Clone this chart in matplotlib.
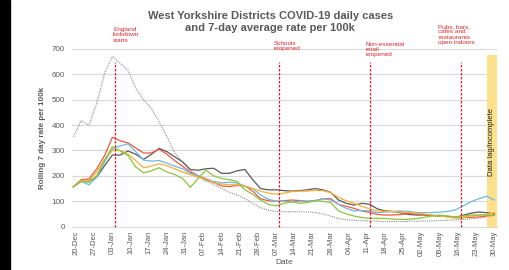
import numpy as np
import pandas as pd
import matplotlib
matplotlib.use("Agg")
import matplotlib.pyplot as plt
import matplotlib.dates as mdates
from matplotlib.patches import Rectangle

plt.rcParams['font.family'] = ['Liberation Sans', 'DejaVu Sans']

# sample dates (every 3 days)
dates = pd.date_range("2020-12-19", periods=55, freq="3D")

# West Yorkshire daily cases (dotted)
wy_daily = [354, 417, 400, 486, 605, 670, 643, 615, 545, 500, 465, 412, 355, 290,
            255, 222, 200, 182, 165, 150, 135, 125, 110, 92, 75, 65, 60, 59, 59,
            59, 58, 56, 50, 42, 32, 28, 25, 24, 23, 22, 20, 20, 20, 21, 22, 22,
            23, 24, 25, 27, 29, 31, 34, 37, np.nan]

# district 7-day rates per 100k
dark = [157, 182, 180, 195, 240, 282, 282, 298, 285, 265, 285, 308, 295, 275,
        255, 225, 222, 228, 230, 210, 210, 220, 225, 185, 150, 145, 145, 142,
        140, 142, 145, 150, 145, 135, 105, 92, 85, 92, 88, 70, 62, 60, 55, 48,
        46, 46, 44, 42, 40, 37, 45, 53, 58, 55, 50]
red = [157, 185, 188, 228, 280, 352, 338, 330, 310, 290, 290, 305, 285, 260,
       238, 215, 200, 188, 175, 160, 158, 162, 160, 140, 110, 102, 100, 102,
       105, 103, 100, 103, 110, 110, 88, 80, 72, 62, 56, 48, 46, 46, 48, 52,
       50, 46, 45, 42, 40, 36, 36, 37, 38, 42, 45]
blue = [157, 178, 165, 195, 255, 305, 318, 326, 295, 262, 258, 260, 250, 238,
        228, 210, 200, 180, 178, 172, 175, 172, 160, 150, 125, 108, 100, 100,
        98, 100, 100, 102, 110, 105, 88, 72, 62, 64, 62, 55, 58, 60, 62, 60,
        56, 55, 56, 57, 60, 66, 82, 98, 110, 120, 105]
orange = [157, 182, 182, 215, 265, 300, 300, 285, 260, 232, 238, 248, 240, 228,
          215, 205, 195, 185, 172, 168, 165, 165, 160, 150, 140, 132, 128, 132,
          138, 140, 140, 143, 142, 134, 115, 102, 92, 80, 70, 62, 60, 59, 58,
          56, 53, 50, 45, 42, 38, 34, 36, 42, 45, 48, 55]
green = [157, 178, 175, 200, 262, 315, 298, 280, 235, 212, 220, 232, 215, 205,
         190, 155, 190, 222, 200, 190, 185, 178, 145, 128, 105, 88, 82, 92, 98,
         92, 95, 102, 100, 95, 62, 50, 42, 36, 33, 33, 32, 30, 29, 29, 32, 37,
         42, 46, 42, 39, 42, 46, 46, 46, 44]

events = ["2021-01-04", "2021-03-08", "2021-04-12", "2021-05-17"]
event_text = ["England\nlockdown\nstarts", "Schools\nreopened",
              "Non-essential\nretail\nreopened",
              "Pubs, bars,\ncafes and\nrestaurants\nopen indoors"]
text_x = ["2021-01-03 06:00", "2021-03-05 22:00", "2021-04-10 08:00", "2021-05-08 10:00"]
text_y = [786, 732, 728, 798]

lag_start, lag_end, lag_top = "2021-05-27", "2021-05-31", 675

fig = plt.figure(figsize=(5.09, 2.70), dpi=100)
ax = fig.add_axes([72 / 509, 1 - 226.7 / 270, 425 / 509, (226.7 - 48.8) / 270])

grey = '#595959'
ax.fill_between(pd.to_datetime([lag_start, lag_end]), 0, lag_top, color='#fde08c', lw=0, zorder=1)
ax.text(pd.Timestamp(lag_start) + (pd.Timestamp(lag_end) - pd.Timestamp(lag_start)) / 2, 335,
        "Data lag/incomplete", rotation=90, ha='center', va='center', fontsize=5.5, color='#222222')

ax.plot(dates, wy_daily, color='#8c8c8c', ls=(0, (1, 1)), lw=0.8, zorder=3)
ax.plot(dates, dark, color='#595959', lw=0.9, zorder=3)
ax.plot(dates, red, color='#ec5a3e', lw=0.9, zorder=3)
ax.plot(dates, blue, color='#6cb8e6', lw=0.9, zorder=3)
ax.plot(dates, orange, color='#f7b035', lw=0.9, zorder=3)
ax.plot(dates, green, color='#8cc43f', lw=0.9, zorder=3)

for d, t, tx, ty in zip(events, event_text, text_x, text_y):
    ax.plot([pd.Timestamp(d)] * 2, [0, 650], color='#e0242a', ls=(0, (2, 1.2)), lw=0.9,
            zorder=4, clip_on=False)
    ax.text(pd.Timestamp(tx), ty, t, color='#e0242a', fontsize=4.6, ha='left', va='top',
            linespacing=1.1)

ax.set_ylim(0, 700)
ax.set_yticks(range(0, 701, 100))
ax.set_xlim(pd.Timestamp("2020-12-18 11:00"), pd.Timestamp("2021-05-31"))
ax.set_xticks(pd.date_range("2020-12-20", "2021-05-30", freq="7D"))
ax.xaxis.set_major_formatter(mdates.DateFormatter("%d-%b"))
ax.tick_params(axis='x', rotation=90, length=0, labelsize=5.5, colors=grey, pad=3)
ax.tick_params(axis='y', length=0, labelsize=5.8, colors=grey, pad=5)
ax.grid(axis='y', color='#d9d9d9', lw=0.8)
ax.set_axisbelow(True)
for s in ['top', 'right', 'left']:
    ax.spines[s].set_visible(False)
ax.spines['bottom'].set_color('#d9d9d9')

ax.set_ylabel("Rolling 7 day rate per 100k", fontsize=5.8, fontweight='bold', color=grey, labelpad=4)
ax.set_xlabel("Date", fontsize=6, color=grey, labelpad=2)

fig.text(0.531, 0.918, "West Yorkshire Districts COVID-19 daily cases\nand 7-day average rate per 100k",
         ha='center', va='center', fontsize=8, fontweight='bold', color=grey, linespacing=1.25)

fig.patches.append(Rectangle((0, 0), 9.5 / 509, 1, transform=fig.transFigure, color='black'))

fig.savefig("out.png", dpi=100)
